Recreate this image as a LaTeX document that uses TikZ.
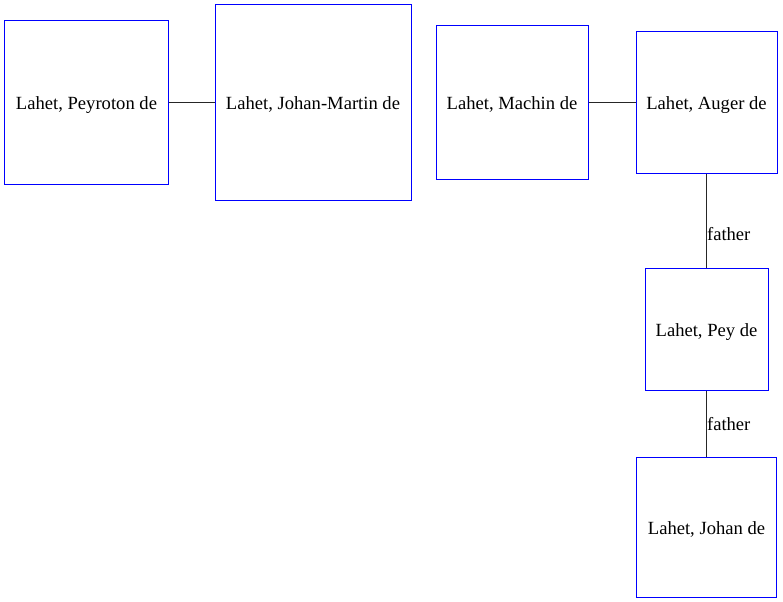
\documentclass[tikz,border=0pt]{standalone}
\usepackage{fontspec}
\setmainfont{Liberation Serif}
\begin{document}
\begin{tikzpicture}[x=1bp,y=-1bp,
  person/.style={draw=blue,line width=1bp,fill=white,inner sep=0pt,
    text height=14bp,text depth=0bp,
    font=\fontsize{18.6bp}{22bp}\selectfont},
  link/.style={draw=black!85,line width=1.1bp},
  lbl/.style={inner sep=0pt,anchor=west,font=\fontsize{18.6bp}{22bp}\selectfont}]
\useasboundingbox (0,0) rectangle (783,602);
\node[person,minimum width=163bp,minimum height=163bp] (peyroton) at (86.5,102.5) {Lahet, Peyroton de};
\node[person,minimum width=196bp,minimum height=195bp] (johanmartin) at (313,102.5) {Lahet, Johan-Martin de};
\node[person,minimum width=152bp,minimum height=153bp] (machin) at (512,102.5) {Lahet, Machin de};
\node[person,minimum width=141bp,minimum height=141bp] (auger) at (706.5,102.5) {Lahet, Auger de};
\node[person,minimum width=123bp,minimum height=122bp] (pey) at (706.5,329) {Lahet, Pey de};
\node[person,minimum width=140bp,minimum height=140bp] (johan) at (706.5,527) {Lahet, Johan de};
\draw[link] (peyroton) -- (johanmartin);
\draw[link] (machin) -- (auger);
\draw[link] (auger) -- node[lbl,pos=0.64] {father} (pey);
\draw[link] (pey) -- node[lbl,pos=0.51] {father} (johan);
\end{tikzpicture}
\end{document}
